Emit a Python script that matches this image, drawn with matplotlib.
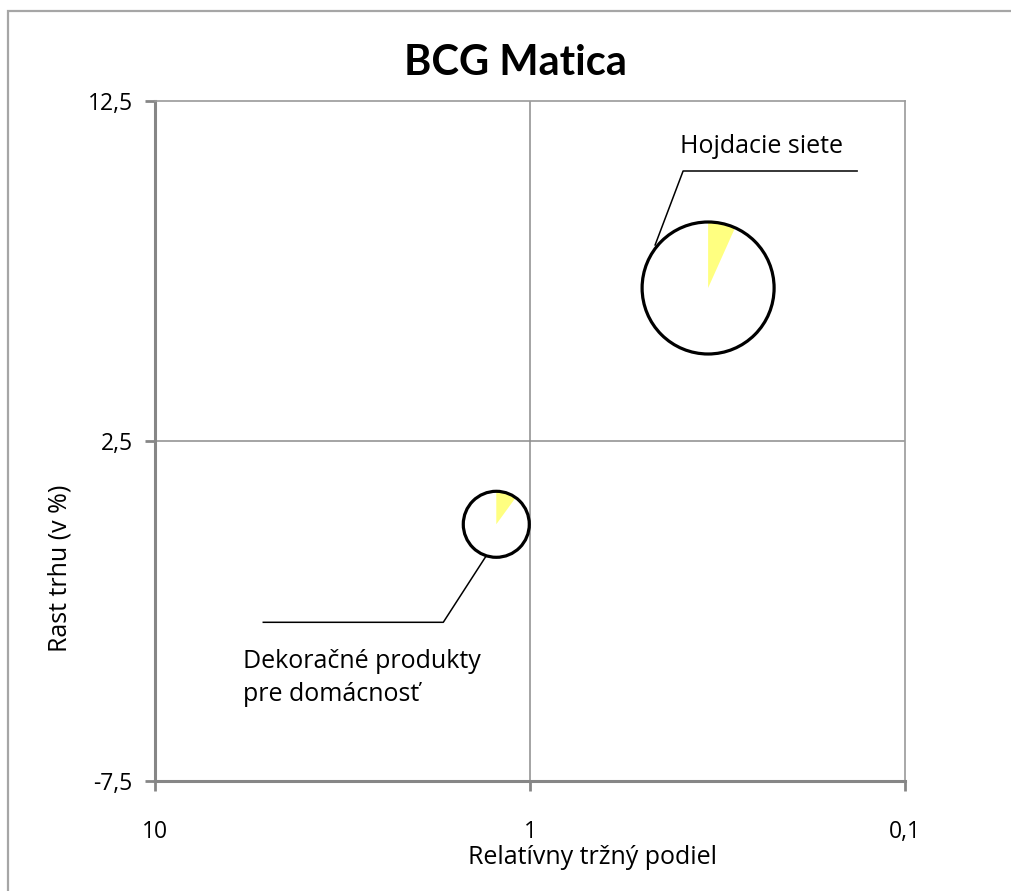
import matplotlib
matplotlib.use("Agg")
import matplotlib.pyplot as plt
from matplotlib.patches import Circle, Wedge, Rectangle
from matplotlib.transforms import IdentityTransform

plt.rcParams['font.family'] = ['Lato', 'DejaVu Sans']
body_font = ['Open Sans', 'DejaVu Sans']

# data
products = ["Hojdacie siete", "Dekoračné produkty\npre domácnosť"]
rel_share = [0.335, 1.23]      # relative market share (x, log)
growth = [7.0, 0.05]           # market growth in %
bubble_size = [4.0, 1.0]       # bubble size (area)
slice_share = [0.067, 0.10]    # yellow pie slice

x_ticks = [10, 1, 0.1]
x_labels = ["10", "1", "0,1"]
y_ticks = [-7.5, 2.5, 12.5]
y_labels = ["-7,5", "2,5", "12,5"]

W, H = 1011, 891
fig = plt.figure(figsize=(W / 100, H / 100), dpi=100)
fig.patches.append(Rectangle((8 / W, -0.1), 1.2, (H - 11) / H + 0.1,
                             transform=fig.transFigure, fill=False,
                             edgecolor="#a6a6a6", lw=1.6))

ax = fig.add_axes([155 / W, 110 / H, 750 / W, 680 / H])
ax.set_xscale("log")
ax.set_xlim(10, 0.1)
ax.set_ylim(-7.5, 12.5)
ax.set_xticks(x_ticks)
ax.set_xticklabels(x_labels, family=body_font)
ax.set_yticks(y_ticks)
ax.set_yticklabels(y_labels, family=body_font)
ax.minorticks_off()
ax.tick_params(axis="both", direction="out", length=7, width=2,
               color="#868686", labelsize=16.5)
ax.tick_params(axis="x", pad=21)
ax.tick_params(axis="y", pad=9)

for side in ["left", "bottom"]:
    ax.spines[side].set_color("#868686")
    ax.spines[side].set_linewidth(2.2)
for side in ["top", "right"]:
    ax.spines[side].set_color("#9a9a9a")
    ax.spines[side].set_linewidth(1.2)

ax.axvline(1, color="#8c8c8c", lw=1.1, zorder=1)
ax.axhline(2.5, color="#8c8c8c", lw=1.1, zorder=1)

ax.set_title("BCG Matica", fontsize=30, fontweight="bold", pad=19,
             x=0.48)
fig.text(593 / W, 1 - 858 / H, "Relatívny tržný podiel", ha="center",
         va="center", fontsize=18, family=body_font)
fig.text(60 / W, 1 - 568 / H, "Rast trhu (v %)", ha="center",
         va="center", rotation=90, fontsize=18, family=body_font)

fig.canvas.draw()

# bubbles with pie slice, drawn in pixels
r_unit = 33.0
leaders = [
    [(-53, 43), (-25, 117), (149, 117)],
    [(-11, -33), (-53, -98), (-233, -98)],
]
text_off = [(-28, 135), (-253, -144)]
line_gap = 33
for i in range(len(products)):
    cx, cy = ax.transData.transform((rel_share[i], growth[i]))
    r = r_unit * bubble_size[i] ** 0.5
    ax.add_patch(Circle((cx, cy), r, transform=IdentityTransform(),
                        facecolor="white", edgecolor="none", zorder=3))
    ax.add_patch(Wedge((cx, cy), r, 90 - 360 * slice_share[i], 90,
                       transform=IdentityTransform(), facecolor="#ffff80",
                       edgecolor="none", zorder=4))
    ax.add_patch(Circle((cx, cy), r, transform=IdentityTransform(),
                        facecolor="none", edgecolor="black", lw=2.3,
                        zorder=5))
    pts = leaders[i]
    ax.plot([cx + p[0] for p in pts], [cy + p[1] for p in pts],
            color="black", lw=1.1, transform=IdentityTransform(),
            zorder=6, clip_on=False)
    tx, ty = text_off[i]
    for k, line in enumerate(products[i].split("\n")):
        ax.text(cx + tx, cy + ty - k * line_gap, line,
                transform=IdentityTransform(), ha="left", va="baseline",
                fontsize=18, family=body_font, zorder=7)

fig.savefig("out.png", dpi=100)
